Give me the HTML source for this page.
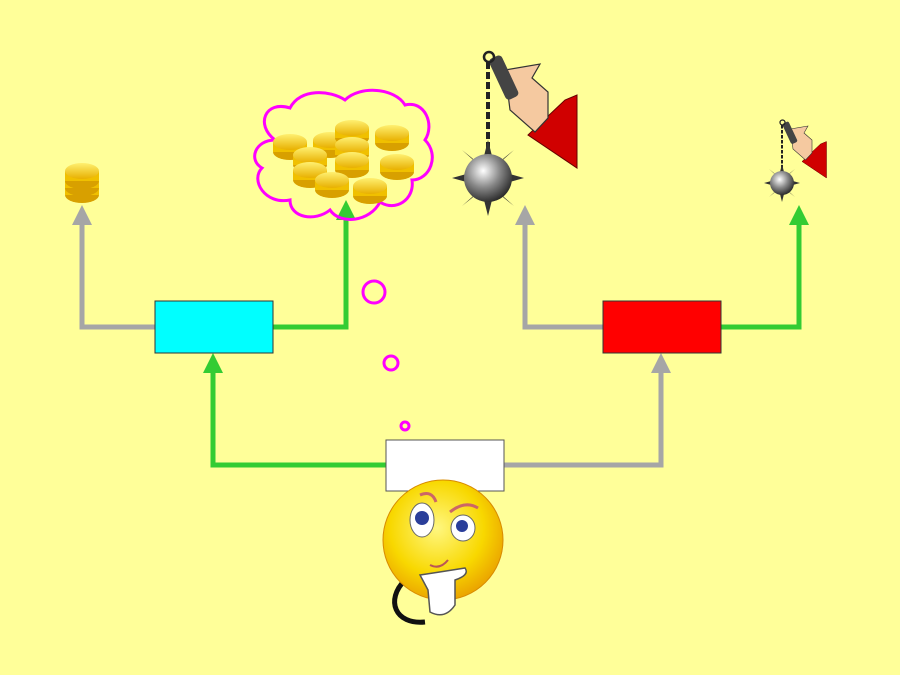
<!DOCTYPE html>
<html><head><style>html,body{margin:0;padding:0;background:#FFFF99;}svg{display:block}</style></head>
<body>
<svg width="900" height="675" viewBox="0 0 900 675" xmlns="http://www.w3.org/2000/svg">
<defs>
<radialGradient id="ball" cx="0.4" cy="0.35" r="0.7"><stop offset="0" stop-color="#fff"/><stop offset="0.5" stop-color="#888"/><stop offset="1" stop-color="#222"/></radialGradient>
<radialGradient id="face" cx="0.45" cy="0.4" r="0.65"><stop offset="0" stop-color="#fff780"/><stop offset="0.6" stop-color="#f8d800"/><stop offset="1" stop-color="#e89a00"/></radialGradient>
<linearGradient id="coin" x1="0" y1="0" x2="0" y2="1"><stop offset="0" stop-color="#fff070"/><stop offset="1" stop-color="#e8b000"/></linearGradient>
<g id="mace">
  <path d="M528,135 L565,100 L577,95 L577,168 Z" fill="#d00000" stroke="#600" stroke-width="1"/>
  <path d="M505,70 L540,64 L532,78 L548,92 L548,118 L535,132 L510,110 Z" fill="#f5c9a0" stroke="#333" stroke-width="1.2"/>
  <rect x="497" y="55" width="14" height="45" rx="4" fill="#444" transform="rotate(-25 504 78)"/>
  <circle cx="489" cy="57" r="5" fill="none" stroke="#222" stroke-width="2.5"/>
  <line x1="488" y1="62" x2="488" y2="155" stroke="#222" stroke-width="4" stroke-dasharray="7 3"/>
  <g fill="#333">
   <polygon points="483,160 493,160 488,140"/><polygon points="483,196 493,196 488,216"/>
   <polygon points="470,173 470,183 452,178"/><polygon points="506,173 506,183 524,178"/>
   <polygon points="472,158 480,166 462,150"/><polygon points="504,158 496,166 514,150"/>
   <polygon points="472,198 480,190 462,206"/><polygon points="504,198 496,190 514,206"/>
  </g>
  <circle cx="488" cy="178" r="24" fill="url(#ball)"/>
</g>
<g id="c"><ellipse cx="0" cy="10" rx="17" ry="8" fill="#d8a000"/><rect x="-17" y="0" width="34" height="10" fill="#f0c000"/><ellipse cx="0" cy="0" rx="17" ry="8" fill="url(#coin)"/></g>
</defs>
<rect width="900" height="675" fill="#FFFF99"/>
<g fill="none" stroke-width="5">
<polyline points="155,327 82,327 82,222" stroke="#A6A6A6"/>
<polyline points="273,327 346,327 346,216" stroke="#33CC33"/>
<polyline points="386,465 213,465 213,370" stroke="#33CC33"/>
<polyline points="504,465 661,465 661,370" stroke="#A6A6A6"/>
<polyline points="603,327 525,327 525,222" stroke="#A6A6A6"/>
<polyline points="721,327 799,327 799,222" stroke="#33CC33"/>
</g>
<polygon points="82,205 72,225 92,225" fill="#A6A6A6"/>
<polygon points="346,200 336,220 356,220" fill="#33CC33"/>
<polygon points="213,353 203,373 223,373" fill="#33CC33"/>
<polygon points="661,353 651,373 671,373" fill="#A6A6A6"/>
<polygon points="525,205 515,225 535,225" fill="#A6A6A6"/>
<polygon points="799,205 789,225 809,225" fill="#33CC33"/>
<rect x="155" y="301" width="118" height="52" fill="#00FFFF" stroke="#333"/>
<rect x="603" y="301" width="118" height="52" fill="#FF0000" stroke="#333"/>
<rect x="386" y="440" width="118" height="51" fill="#fff" stroke="#555"/>
<g fill="none" stroke="#FF00FF" stroke-width="3">
<circle cx="374" cy="292" r="11"/><circle cx="391" cy="363" r="7"/><circle cx="405" cy="426" r="4"/>
<path d="M275,140 C255,125 265,100 290,108 C300,88 330,90 345,100 C360,85 395,88 405,105 C425,100 435,125 425,140 C440,155 430,180 412,180 C415,200 395,212 380,202 C370,222 340,225 330,210 C315,222 290,218 290,200 C265,205 250,180 262,168 C248,160 255,140 275,140 Z"/>
</g>
<use href="#c" x="290" y="142"/><use href="#c" x="330" y="140"/><use href="#c" x="352" y="128"/><use href="#c" x="352" y="145"/><use href="#c" x="352" y="160"/>
<use href="#c" x="392" y="133"/><use href="#c" x="310" y="155"/><use href="#c" x="310" y="170"/>
<use href="#c" x="397" y="162"/><use href="#c" x="332" y="180"/><use href="#c" x="370" y="186"/>
<use href="#c" x="82" y="185"/><use href="#c" x="82" y="178"/><use href="#c" x="82" y="171"/>
<use href="#mace"/>
<use href="#mace" transform="translate(538,94) scale(0.5)"/>
<path d="M405,580 C385,600 395,625 425,622" fill="none" stroke="#111" stroke-width="5"/>
<circle cx="443" cy="540" r="60" fill="url(#face)" stroke="#d88a00" stroke-width="1"/>
<ellipse cx="422" cy="520" rx="12" ry="17" fill="#fff" stroke="#666"/>
<ellipse cx="463" cy="528" rx="12" ry="13" fill="#fff" stroke="#666"/>
<circle cx="422" cy="518" r="7" fill="#2a3e9a"/><circle cx="462" cy="526" r="6" fill="#2a3e9a"/>
<path d="M420,495 Q432,490 436,502" fill="none" stroke="#c66" stroke-width="3"/>
<path d="M450,512 Q465,500 478,508" fill="none" stroke="#c66" stroke-width="3"/>
<path d="M430,565 Q440,570 448,560" fill="none" stroke="#b55" stroke-width="2"/>
<path d="M420,575 Q440,572 465,568 Q470,575 455,580 L455,605 Q445,620 430,612 L428,590 Z" fill="#fff" stroke="#555" stroke-width="1.5"/>
</svg>
</body></html>
